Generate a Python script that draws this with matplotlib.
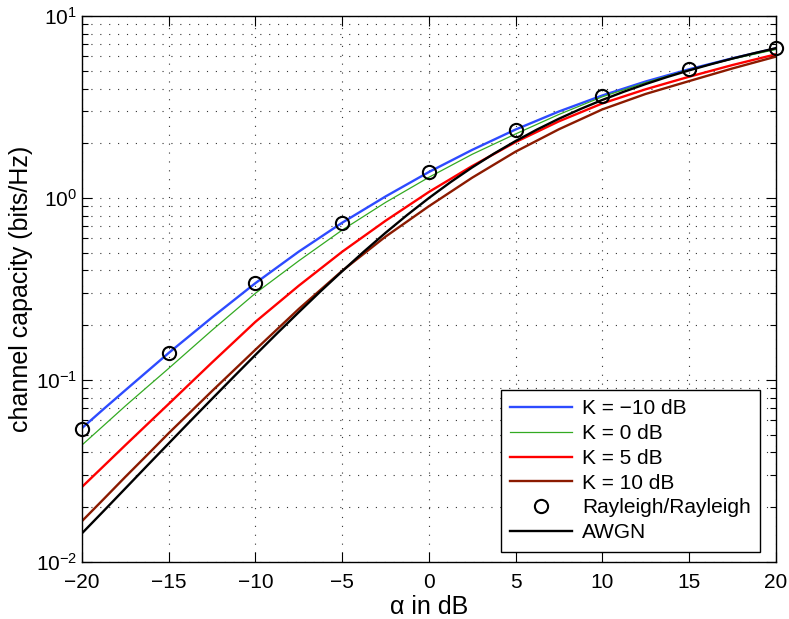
import matplotlib
matplotlib.use("Agg")
import matplotlib.pyplot as plt
from matplotlib.ticker import LogLocator, MultipleLocator

plt.rcParams['font.family'] = ['Liberation Sans', 'DejaVu Sans']
plt.rcParams['mathtext.default'] = 'regular'

# alpha in dB
alpha = [-20, -18.75, -17.5, -16.25, -15, -13.75, -12.5, -11.25, -10,
         -8.75, -7.5, -6.25, -5, -3.75, -2.5, -1.25, 0,
         1.25, 2.5, 3.75, 5, 6.25, 7.5, 8.75, 10,
         11.25, 12.5, 13.75, 15, 16.25, 17.5, 18.75, 20]

# capacities (bits/Hz)
cap_k_m10 = [0.0545, 0.0694, 0.088, 0.1114, 0.141, 0.1765, 0.221, 0.2745, 0.341,
             0.4162, 0.508, 0.6098, 0.732, 0.8641, 1.02, 1.1907, 1.39,
             1.5993, 1.84, 2.0927, 2.38, 2.6676, 2.99, 3.3081, 3.66,
             3.9993, 4.37, 4.7209, 5.10, 5.4668, 5.86, 6.2378, 6.64]
cap_k_0 = [0.044, 0.0563, 0.0721, 0.0915, 0.116, 0.1477, 0.188, 0.2375, 0.30,
           0.3682, 0.452, 0.5491, 0.667, 0.7943, 0.946, 1.109, 1.30,
           1.504, 1.74, 1.979, 2.25, 2.546, 2.88, 3.220, 3.60,
           3.939, 4.31, 4.670, 5.06, 5.422, 5.81, 6.169, 6.55]
cap_k_5 = [0.0259, 0.0337, 0.0439, 0.0570, 0.074, 0.0962, 0.125, 0.1616, 0.209,
           0.2626, 0.330, 0.4090, 0.507, 0.6166, 0.750, 0.900, 1.08,
           1.273, 1.50, 1.745, 2.03, 2.315, 2.64, 2.956, 3.31,
           3.620, 3.96, 4.287, 4.64, 4.996, 5.38, 5.757, 6.16]
cap_k_10 = [0.0168, 0.0222, 0.0294, 0.0387, 0.0511, 0.0667, 0.0871, 0.1131, 0.1469,
            0.1901, 0.2460, 0.3130, 0.3981, 0.4943, 0.6138, 0.7438, 0.9016,
            1.0802, 1.2942, 1.5257, 1.7989, 2.0725, 2.3878, 2.7067, 3.0690,
            3.3850, 3.7325, 4.0486, 4.3902, 4.7560, 5.1523, 5.5525, 5.9813]
cap_awgn = [0.0144, 0.0191, 0.0254, 0.0338, 0.0449, 0.0596, 0.0789, 0.1043, 0.1375,
            0.1806, 0.236, 0.3070, 0.396, 0.5076, 0.644, 0.8073, 1.0,
            1.2225, 1.474, 1.7533, 2.057, 2.3832, 2.728, 3.0873, 3.459,
            3.8415, 4.231, 4.6273, 5.028, 5.4320, 5.839, 6.2478, 6.658]

alpha_ray = [-20, -15, -10, -5, 0, 5, 10, 15, 20]
cap_ray = [0.0536, 0.141, 0.341, 0.732, 1.39, 2.38, 3.66, 5.10, 6.64]

labels = ['K = \u221210 dB', 'K = 0 dB', 'K = 5 dB', 'K = 10 dB',
          'Rayleigh/Rayleigh', 'AWGN']


def main():
    fig = plt.figure(figsize=(7.89, 6.19), dpi=100)
    ax = fig.add_axes([0.104, 0.092, 0.879, 0.882])

    ax.semilogy(alpha, cap_k_m10, color='#2d4bff', lw=1.7, label=labels[0])
    ax.semilogy(alpha, cap_k_0, color='#33aa22', lw=0.9, label=labels[1])
    ax.semilogy(alpha, cap_k_5, color='#ff0000', lw=1.7, label=labels[2])
    ax.semilogy(alpha, cap_k_10, color='#8b1a00', lw=1.7, label=labels[3])
    ax.semilogy(alpha_ray, cap_ray, 'o', mfc='none', mec='black', ms=9.5,
                mew=1.5, label=labels[4], clip_on=False, zorder=5)
    ax.semilogy(alpha, cap_awgn, color='black', lw=1.7, label=labels[5])

    ax.set_xlim(-20, 20)
    ax.set_ylim(1e-2, 1e1)
    ax.xaxis.set_major_locator(MultipleLocator(5))
    ax.yaxis.set_major_locator(LogLocator(base=10))
    ax.yaxis.set_minor_locator(LogLocator(base=10, subs=range(2, 10)))

    dots = (0, (1, 7))
    ax.grid(True, which='major', linestyle=dots, color='#333333', lw=0.8)
    ax.grid(True, which='minor', axis='y', linestyle=dots, color='#333333', lw=0.8)

    ax.tick_params(which='both', direction='in', top=True, right=True,
                   labelsize=15, width=0.8)
    ax.tick_params(which='major', length=7)
    ax.tick_params(which='minor', length=4)
    ax.tick_params(axis='x', pad=8)
    for s in ax.spines.values():
        s.set_linewidth(1.0)

    ax.set_xlabel('\u03b1 in dB', fontsize=18, labelpad=2)
    ax.set_ylabel('channel capacity (bits/Hz)', fontsize=18, labelpad=2)

    leg = ax.legend(loc='lower right', bbox_to_anchor=(0.9775, 0.019),
                    borderaxespad=0, fontsize=15, handlelength=3.0,
                    handletextpad=0.45, labelspacing=0.28, fancybox=False,
                    edgecolor='black', framealpha=1, borderpad=0.45)
    leg.get_frame().set_linewidth(1.0)

    fig.savefig('out.png', dpi=100)


if __name__ == "__main__":
    main()
